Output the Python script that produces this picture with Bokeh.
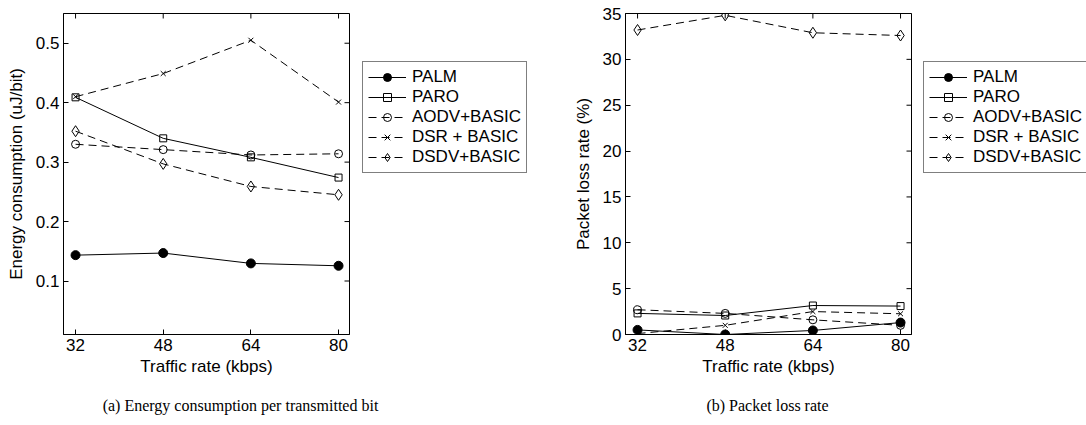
import math
from bokeh.plotting import figure
from bokeh.models import Range1d, FixedTicker, Legend, LegendItem, Label
from bokeh.layouts import row, column
from bokeh.embed import file_html
from bokeh.resources import INLINE

rates = [32, 48, 64, 80]
series_names = ["PALM", "PARO", "AODV+BASIC", "DSR + BASIC", "DSDV+BASIC"]

energy_palm = [0.1435, 0.147, 0.1296, 0.1256]
energy_paro = [0.409, 0.340, 0.308, 0.274]
energy_aodv = [0.330, 0.321, 0.312, 0.314]
energy_dsr = [0.410, 0.449, 0.505, 0.401]
energy_dsdv = [0.352, 0.297, 0.259, 0.245]

loss_palm = [0.5, 0.0, 0.44, 1.3]
loss_paro = [2.3, 2.07, 3.16, 3.1]
loss_aodv = [2.7, 2.3, 1.6, 1.0]
loss_dsr = [0.1, 1.0, 2.5, 2.26]
loss_dsdv = [33.2, 34.8, 32.9, 32.6]

energy_ticks = [0.1, 0.2, 0.3, 0.4, 0.5]
loss_ticks = [0, 5, 10, 15, 20, 25, 30, 35]

captions = ["(a)  Energy consumption per transmitted bit", "(b)  Packet loss rate"]

X_START, X_END = 29.8, 82

FONT = "Liberation Sans"
DASH = "8 5"
styles = [
    dict(dash="solid", marker="circle", size=9, fill="black"),
    dict(dash="solid", marker="square", size=7, fill=None),
    dict(dash=DASH, marker="circle", size=8, fill=None),
    dict(dash=DASH, marker="x", size=7, fill=None),
    dict(dash=DASH, marker="diamond", size=11, fill=None),
]


def style_axis(ax, ticks):
    ax.ticker = FixedTicker(ticks=ticks)
    ax.major_tick_in = 5
    ax.major_tick_out = 0
    ax.minor_tick_line_color = None
    ax.axis_line_color = "black"
    ax.major_tick_line_color = "black"
    ax.major_label_text_font = FONT
    ax.major_label_text_color = "black"
    ax.major_label_text_font_size = "17px"
    ax.axis_label_text_font = FONT
    ax.axis_label_text_font_style = "normal"
    ax.axis_label_text_color = "black"
    ax.axis_label_text_font_size = "17px"


def draw_series(p, ys, st):
    lr = p.line(rates, ys, line_color="black", line_width=1, line_dash=st["dash"])
    sr = p.scatter(rates, ys, marker=st["marker"], size=st["size"],
                   line_color="black", line_width=1, fill_color=st["fill"])
    return lr, sr


def make_plot(series, y_start, y_end, y_ticks, y_label, b_left, b_right):
    p = figure(frame_width=286, frame_height=321, output_backend="svg",
               toolbar_location=None, x_range=Range1d(X_START, X_END),
               y_range=Range1d(y_start, y_end),
               min_border_left=b_left, min_border_right=b_right,
               min_border_top=13, min_border_bottom=46)
    p.background_fill_color = "white"
    p.border_fill_color = "white"
    p.outline_line_color = "black"
    p.outline_line_width = 1
    p.xgrid.visible = False
    p.ygrid.visible = False

    style_axis(p.xaxis[0], rates)
    style_axis(p.yaxis[0], y_ticks)
    p.xaxis[0].axis_label = "Traffic rate (kbps)"
    p.yaxis[0].axis_label = y_label
    p.xaxis[0].major_label_standoff = 4
    p.xaxis[0].axis_label_standoff = 3
    p.yaxis[0].major_label_standoff = 4
    p.yaxis[0].axis_label_standoff = 7

    # inside ticks on the top and right edges of the box (outer half clipped by the frame)
    p.scatter(rates, [y_end] * len(rates), marker="dash", size=10, angle=math.pi / 2,
              line_color="black", line_width=1)
    p.scatter([X_END] * len(y_ticks), y_ticks, marker="dash", size=10,
              line_color="black", line_width=1)

    for ys, st in zip(series, styles):
        draw_series(p, ys, st)
    return p


def make_legend_fig(width, series):
    # the series are drawn outside this panel's ranges; only their legend entries show
    f = figure(frame_width=width, frame_height=321, output_backend="svg",
               toolbar_location=None,
               x_range=Range1d(0, 1), y_range=Range1d(0, 1),
               x_axis_location=None, y_axis_location=None,
               min_border_left=0, min_border_right=0, min_border_top=13,
               min_border_bottom=46)
    f.outline_line_color = None
    f.xgrid.visible = False
    f.ygrid.visible = False
    f.background_fill_color = "white"
    f.border_fill_color = "white"
    items = []
    for name, ys, st in zip(series_names, series, styles):
        lr, sr = draw_series(f, ys, st)
        items.append(LegendItem(label=name, renderers=[lr, sr]))
    leg = Legend(items=items, location=(0, 161))
    leg.label_text_font = FONT
    leg.label_text_font_size = "17px"
    leg.label_text_color = "black"
    leg.glyph_width = 38
    leg.glyph_height = 20
    leg.label_height = 20
    leg.label_standoff = 6
    leg.spacing = 0
    leg.padding = 5
    leg.margin = 0
    leg.border_line_color = "black"
    leg.border_line_width = 1
    leg.background_fill_color = "white"
    leg.background_fill_alpha = 1
    f.add_layout(leg, "center")
    return f


energy = [energy_palm, energy_paro, energy_aodv, energy_dsr, energy_dsdv]
loss = [loss_palm, loss_paro, loss_aodv, loss_dsr, loss_dsdv]

pa = make_plot(energy, 0.01, 0.55, energy_ticks, "Energy consumption (uJ/bit)", 63, 13)
la = make_legend_fig(181, energy)
pb = make_plot(loss, 0, 35, loss_ticks, "Packet loss rate (%)", 82, 12)
lb = make_legend_fig(163, loss)

cap = figure(width=1086, height=44, output_backend="svg", toolbar_location=None,
             x_range=Range1d(0, 1), y_range=Range1d(0, 1),
             x_axis_location=None, y_axis_location=None,
             min_border_left=0, min_border_right=0, min_border_top=0, min_border_bottom=0)
cap.outline_line_color = None
cap.xgrid.visible = False
cap.ygrid.visible = False
for text, cx in zip(captions, [242, 769]):
    cap.add_layout(Label(x=cx, y=19, x_units="screen", y_units="screen", text=text,
                         text_font="Liberation Serif", text_font_size="16px",
                         text_align="center", text_baseline="middle",
                         text_color="black"))

layout = column(row(pa, la, pb, lb), cap)
open("out.html", "w").write(file_html(layout, INLINE))
